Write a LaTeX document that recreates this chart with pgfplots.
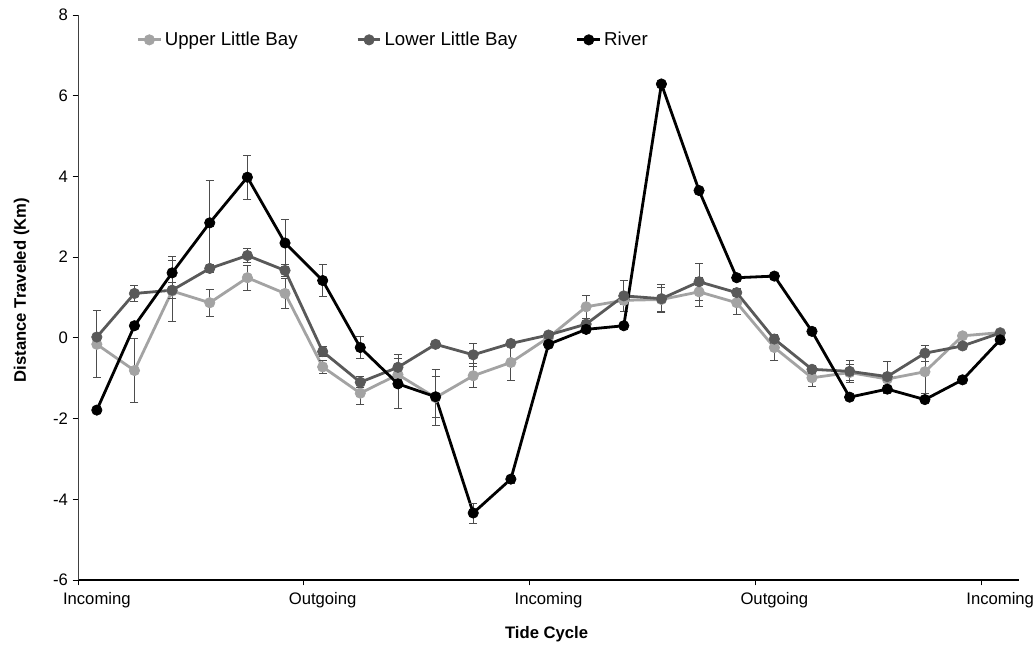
\documentclass[border=0pt]{standalone}
\usepackage{fontspec}
\setmainfont{Liberation Sans}
\usepackage{pgfplots}
\usepackage{pgfplotstable}
\pgfplotsset{compat=1.18}
\definecolor{upper}{HTML}{A3A3A3}
\definecolor{lower}{HTML}{595959}
\definecolor{errc}{HTML}{4D4D4D}

\pgfplotstableread{
x u ue l le r re
0 -0.16 0.83 0.02 0.10 -1.79 0.00
1 -0.81 0.80 1.10 0.20 0.30 0.00
2 1.16 0.75 1.18 0.20 1.61 0.41
3 0.87 0.33 1.72 0.10 2.85 1.05
4 1.49 0.31 2.04 0.17 3.98 0.54
5 1.10 0.38 1.67 0.15 2.35 0.58
6 -0.72 0.16 -0.34 0.12 1.42 0.39
7 -1.37 0.27 -1.10 0.14 -0.24 0.27
8 -0.91 0.12 -0.73 0.33 -1.14 0.62
9 -1.48 0.70 -0.16 0.08 -1.46 0.50
10 -0.94 0.30 -0.42 0.28 -4.34 0.25
11 -0.61 0.45 -0.14 0.08 -3.50 0.10
12 0.01 0.10 0.07 0.08 -0.16 0.05
13 0.77 0.28 0.34 0.10 0.21 0.00
14 0.93 0.10 1.04 0.38 0.30 0.00
15 0.95 0.30 0.97 0.35 6.29 0.00
16 1.14 0.35 1.39 0.45 3.65 0.00
17 0.87 0.29 1.12 0.10 1.49 0.00
18 -0.24 0.33 -0.03 0.10 1.53 0.00
19 -0.99 0.21 -0.78 0.10 0.16 0.00
20 -0.86 0.20 -0.83 0.28 -1.47 0.00
21 -1.02 0.15 -0.96 0.37 -1.27 0.10
22 -0.84 0.53 -0.38 0.20 -1.53 0.00
23 0.05 0.05 -0.20 0.05 -1.04 0.00
24 0.13 0.05 0.12 0.05 -0.05 0.00
}\data

\begin{document}
\begin{tikzpicture}
\begin{axis}[
  scale only axis, width=705.75pt, height=423.75pt,
  xmin=-0.5, xmax=24.5, ymin=-6, ymax=8,
  axis x line*=bottom, axis y line*=left,
  axis line style={-},
  x axis line style={line width=1.4pt, black},
  y axis line style={line width=0.6pt, black!75},
  ytick={-6,-4,...,8},
  xtick={-0.5,5.5,11.5,17.5,23.5}, xticklabels={},
  extra x ticks={0,6,12,18,24},
  extra x tick labels={Incoming,Outgoing,Incoming,Outgoing,Incoming},
  extra x tick style={major tick length=0pt, xticklabel style={yshift=-6pt}},
  tick align=outside, major tick length=4pt,
  tick style={line width=0.6pt, black},
  ticklabel style={font=\fontsize{12.5}{14}\selectfont},
  /pgf/number format/assume math mode=true,
  xlabel={Tide Cycle}, ylabel={Distance Traveled (Km)},
  label style={font=\bfseries\fontsize{12.5}{15}\selectfont},
  xlabel style={at={(axis description cs:0.498,-0.0956)}, anchor=center},
  ylabel style={at={(axis description cs:-0.0600,0.513)}, anchor=center},
  legend style={at={(axis description cs:0.062,0.956)}, anchor=west, draw=none, fill=none,
    font=\fontsize{14}{16}\selectfont, inner sep=0pt,
    /tikz/every even column/.append style={column sep=42pt}},
  legend columns=3,
  legend cell align=left,
]
\addplot[upper, line width=2.1pt, mark=*, mark size=3.9pt, mark options={fill=upper, draw=upper, line width=0.5pt},
  error bars/.cd, y dir=both, y explicit,
  error bar style={errc, line width=0.6pt},
  error mark options={rotate=90, errc, mark size=3pt, line width=0.6pt}]
  table[x=x, y=u, y error=ue]{\data};
\addlegendentry{Upper Little Bay}
\addplot[lower, line width=2.1pt, mark=*, mark size=3.9pt, mark options={fill=lower, draw=lower, line width=0.5pt},
  error bars/.cd, y dir=both, y explicit,
  error bar style={errc, line width=0.6pt},
  error mark options={rotate=90, errc, mark size=3pt, line width=0.6pt}]
  table[x=x, y=l, y error=le]{\data};
\addlegendentry{Lower Little Bay}
\addplot[black, line width=2.1pt, mark=*, mark size=3.9pt, mark options={fill=black, draw=black, line width=0.5pt},
  error bars/.cd, y dir=both, y explicit,
  error bar style={errc, line width=0.6pt},
  error mark options={rotate=90, errc, mark size=3pt, line width=0.6pt}]
  table[x=x, y=r, y error=re]{\data};
\addlegendentry{River}
\end{axis}
\pgfresetboundingbox
\path ([xshift=-58.5pt,yshift=-49.5pt]current axis.south west) rectangle ([xshift=11.25pt,yshift=11.25pt]current axis.north east);
\end{tikzpicture}
\end{document}
